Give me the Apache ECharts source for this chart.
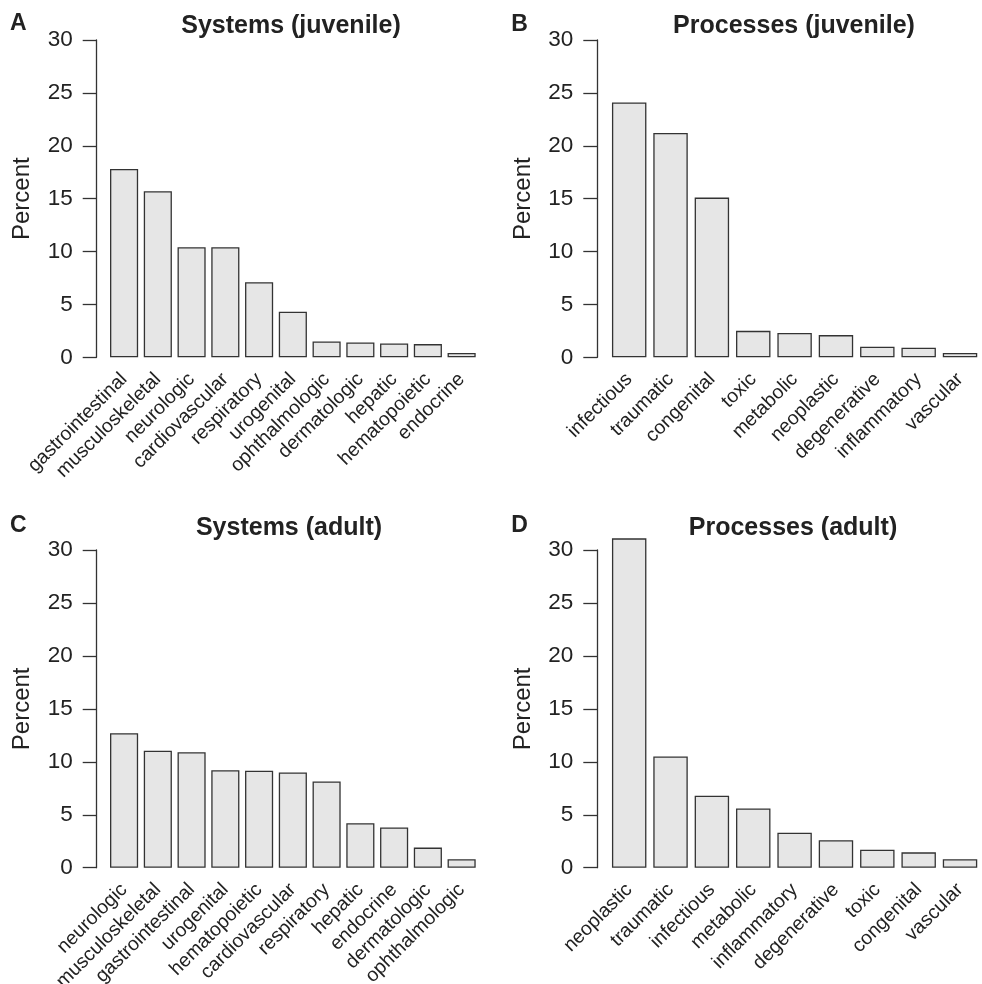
<!DOCTYPE html>
<html>
<head>
<meta charset="utf-8">
<title>Systems and processes (juvenile / adult)</title>
<script src="https://cdn.jsdelivr.net/npm/echarts@6/dist/echarts.min.js"></script>
<style>
  html, body { margin: 0; padding: 0; background: #fff; }
  #chart { width: 982px; height: 984px; }
</style>
</head>
<body>
<div id="chart"></div>
<script>
// Percent of cases by organ system and by disease process
const systemsJuvenileCats = ['gastrointestinal', 'musculoskeletal', 'neurologic', 'cardiovascular', 'respiratory', 'urogenital', 'ophthalmologic', 'dermatologic', 'hepatic', 'hematopoietic', 'endocrine'];
const systemsJuvenileValues = [17.8, 15.7, 10.4, 10.4, 7.1, 4.3, 1.5, 1.4, 1.3, 1.25, 0.4];

const processesJuvenileCats = ['infectious', 'traumatic', 'congenital', 'toxic', 'metabolic', 'neoplastic', 'degenerative', 'inflammatory', 'vascular'];
const processesJuvenileValues = [24.1, 21.2, 15.1, 2.5, 2.3, 2.1, 1.0, 0.9, 0.4];

const systemsAdultCats = ['neurologic', 'musculoskeletal', 'gastrointestinal', 'urogenital', 'hematopoietic', 'cardiovascular', 'respiratory', 'hepatic', 'endocrine', 'dermatologic', 'ophthalmologic'];
const systemsAdultValues = [12.7, 11.05, 10.9, 9.2, 9.15, 9.0, 8.15, 4.2, 3.8, 1.9, 0.8];

const processesAdultCats = ['neoplastic', 'traumatic', 'infectious', 'metabolic', 'inflammatory', 'degenerative', 'toxic', 'congenital', 'vascular'];
const processesAdultValues = [31.1, 10.5, 6.8, 5.6, 3.3, 2.6, 1.7, 1.45, 0.8];

const yTicks = [0, 5, 10, 15, 20, 25, 30];

const FONT = '"Liberation Sans", Arial, Helvetica, sans-serif';
const INK = '#222222';
const LINE = '#333333';

const panels = [
  { letter: 'A', title: 'Systems (juvenile)',   cats: systemsJuvenileCats,   values: systemsJuvenileValues,
    left: 107.2, width: 371.3, top: 40,  height: 317.3, axisX: 96.7,  titleX: 291, titleY: 26,  letterX: 18.3,  letterY: 24 },
  { letter: 'B', title: 'Processes (juvenile)', cats: processesJuvenileCats, values: processesJuvenileValues,
    left: 608.5, width: 372.2, top: 40,  height: 317.3, axisX: 597.3, titleX: 794, titleY: 26,  letterX: 519.5, letterY: 24.5 },
  { letter: 'C', title: 'Systems (adult)',      cats: systemsAdultCats,      values: systemsAdultValues,
    left: 107.2, width: 371.3, top: 550, height: 317.7, axisX: 96.7,  titleX: 289, titleY: 528, letterX: 18.3,  letterY: 525.5 },
  { letter: 'D', title: 'Processes (adult)',    cats: processesAdultCats,    values: processesAdultValues,
    left: 608.5, width: 372.2, top: 550, height: 317.7, axisX: 597.3, titleX: 793, titleY: 528, letterX: 519.5, letterY: 525.5 }
];

const grid = [], xAxis = [], yAxis = [], series = [], graphic = [];

panels.forEach((p, i) => {
  grid.push({ left: p.left, top: p.top, width: p.width, height: p.height, containLabel: false, outerBoundsMode: 'none' });

  xAxis.push({
    type: 'category', gridIndex: i, data: p.cats, boundaryGap: true,
    axisLine: { show: false }, axisTick: { show: false }, splitLine: { show: false },
    axisLabel: { interval: 0, rotate: 45, margin: 19, color: INK, fontFamily: FONT, fontSize: 19.5 }
  });

  yAxis.push({
    type: 'value', gridIndex: i, min: yTicks[0], max: yTicks[yTicks.length - 1], interval: 5,
    offset: p.left - p.axisX,
    axisLine: { show: true, lineStyle: { color: LINE, width: 1.3 } },
    axisTick: { show: true, length: 14, lineStyle: { color: LINE, width: 1.3 } },
    splitLine: { show: false },
    axisLabel: { margin: 24, color: INK, fontFamily: FONT, fontSize: 22.5 }
  });

  series.push({
    type: 'bar', xAxisIndex: i, yAxisIndex: i, data: p.values,
    barCategoryGap: '16.7%', clip: false, silent: true, animation: false,
    itemStyle: { color: '#e6e6e6', borderColor: LINE, borderWidth: 1.3 }
  });

  graphic.push({
    type: 'text', x: p.titleX, y: p.titleY,
    style: { text: p.title, align: 'center', verticalAlign: 'middle', fill: INK, font: 'bold 25px ' + FONT }
  });
  graphic.push({
    type: 'text', x: p.letterX, y: p.letterY,
    style: { text: p.letter, align: 'center', verticalAlign: 'middle', fill: INK, font: 'bold 23px ' + FONT }
  });
  graphic.push({
    type: 'text', x: p.axisX - 74, y: p.top + p.height / 2, rotation: Math.PI / 2,
    style: { text: 'Percent', align: 'center', verticalAlign: 'middle', fill: INK, font: '24px ' + FONT }
  });
});

const chart = echarts.init(document.getElementById('chart'), null, { renderer: 'canvas' });
chart.setOption({
  backgroundColor: '#ffffff',
  animation: false,
  grid, xAxis, yAxis, series, graphic
});
</script>
</body>
</html>
